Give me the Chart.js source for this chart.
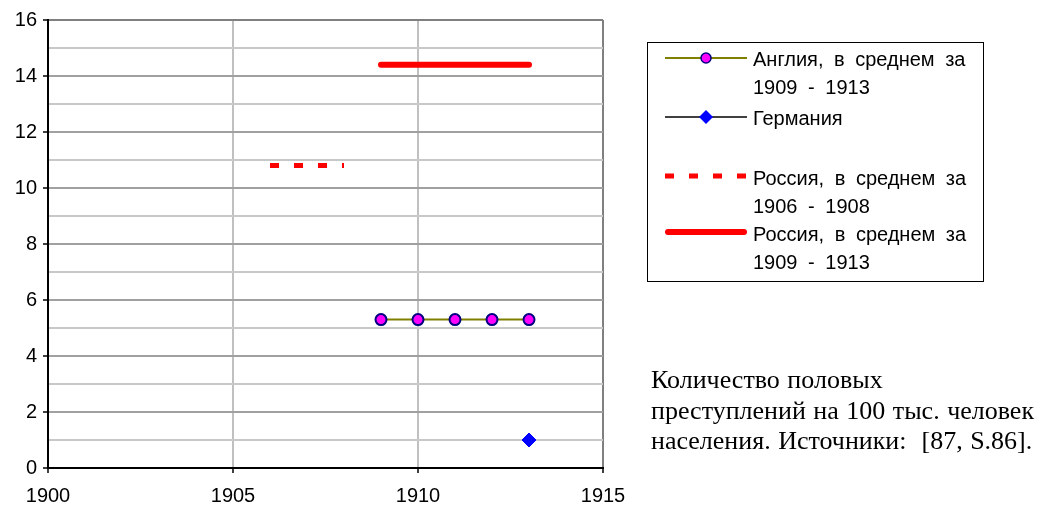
<!DOCTYPE html>
<html>
<head>
<meta charset="utf-8">
<script src="https://cdn.jsdelivr.net/npm/chart.js@4.4.1/dist/chart.umd.min.js"></script>
<style>
  body { margin: 0; background: #fff; }
  #wrap { position: relative; width: 1051px; height: 509px; }
  #legend {
    position: absolute; left: 647px; top: 42px; width: 335px; height: 238px;
    border: 1px solid #000; font-family: 'Liberation Sans', Arial, sans-serif;
    font-size: 20px; color: #000;
  }
  .entry { position: absolute; left: 105px; line-height: 28px; word-spacing: 5px; white-space: nowrap; }
  .sw { position: absolute; left: 17px; }
  #note {
    position: absolute; left: 651px; top: 365px; font-family: 'Liberation Serif', 'Times New Roman', serif;
    font-size: 26px; line-height: 30.5px; word-spacing: 1px; color: #000; white-space: nowrap;
  }
</style>
</head>
<body>
<div id="wrap">
  <canvas id="crimeChart" width="1051" height="509"></canvas>
  <div id="legend"></div>
  <div id="note">Количество половых<br>преступлений на 100 тыс. человек<br>населения. Источники:&nbsp; [87, S.86].</div>
</div>
<script>
// данные
const englandYears = [1909, 1910, 1911, 1912, 1913];
const englandValues = [5.3, 5.3, 5.3, 5.3, 5.3];
const germanyYears = [1913];
const germanyValues = [1.0];
const russia0608Years = [1906, 1907, 1908];
const russia0608Values = [10.8, 10.8, 10.8];
const russia0913Years = [1909, 1910, 1911, 1912, 1913];
const russia0913Values = [14.4, 14.4, 14.4, 14.4, 14.4];

const legendLabels = [
  'Англия, в среднем за<br>1909 - 1913',
  'Германия',
  'Россия, в среднем за<br>1906 - 1908',
  'Россия, в среднем за<br>1909 - 1913'
];

const toPoints = (xs, ys) => xs.map((x, i) => ({ x: x, y: ys[i] }));
const tickFont = { family: "'Liberation Sans', Arial, sans-serif", size: 20 };

const ctx = document.getElementById('crimeChart').getContext('2d');
const chart = new Chart(ctx, {
  type: 'scatter',
  data: {
    datasets: [
      {
        label: 'Англия',
        data: toPoints(englandYears, englandValues),
        showLine: true,
        borderColor: '#808000',
        borderWidth: 2,
        pointStyle: 'circle',
        pointRadius: 5.5,
        pointBackgroundColor: '#ff00ff',
        pointBorderColor: '#000080',
        pointBorderWidth: 2
      },
      {
        label: 'Германия',
        data: toPoints(germanyYears, germanyValues),
        showLine: true,
        borderColor: '#000000',
        borderWidth: 1.5,
        pointStyle: 'rectRot',
        pointRadius: 7,
        pointBackgroundColor: '#0000ff',
        pointBorderColor: '#0000ff',
        pointBorderWidth: 1
      },
      {
        label: 'Россия 1906-1908',
        data: toPoints(russia0608Years, russia0608Values),
        showLine: true,
        borderColor: '#ff0000',
        borderWidth: 5,
        borderDash: [9, 15],
        borderCapStyle: 'butt',
        pointRadius: 0
      },
      {
        label: 'Россия 1909-1913',
        data: toPoints(russia0913Years, russia0913Values),
        showLine: true,
        borderColor: '#ff0000',
        borderWidth: 6,
        borderCapStyle: 'round',
        borderJoinStyle: 'round',
        pointRadius: 0
      }
    ]
  },
  options: {
    responsive: false,
    animation: false,
    layout: { padding: { top: 20, right: 448, left: 0, bottom: 0 } },
    plugins: { legend: { display: false }, tooltip: { enabled: false } },
    scales: {
      x: {
        type: 'linear',
        min: 1900,
        max: 1915,
        afterFit: (scale) => { scale.height = 41; },
        ticks: {
          stepSize: 5,
          color: '#000',
          padding: 11,
          font: tickFont,
          callback: (v) => String(v)
        },
        grid: {
          color: (c) => (c.tick && c.tick.value === 1915 ? '#808080' : '#c0c0c0'),
          lineWidth: 2,
          tickColor: '#000',
          tickLength: 5,
          tickWidth: 1.5
        },
        border: { color: '#000', width: 2 }
      },
      y: {
        min: 0,
        max: 16,
        afterFit: (scale) => { scale.width = 48; },
        ticks: {
          stepSize: 1,
          autoSkip: false,
          color: '#000',
          padding: 6,
          font: tickFont,
          callback: (v) => (v % 2 === 0 ? v : '')
        },
        grid: {
          color: (c) => {
            if (!c.tick) return '#c0c0c0';
            if (c.tick.value === 16) return '#808080';
            return c.tick.value % 2 === 0 ? '#a0a0a0' : '#c8c8c8';
          },
          lineWidth: 2,
          tickColor: (c) => (c.tick && c.tick.value % 2 === 0 ? '#000' : 'rgba(0,0,0,0)'),
          tickLength: 5,
          tickWidth: 1.5
        },
        border: { color: '#000', width: 2 }
      }
    }
  }
});

// легенда: образцы линий и маркеров берутся из настроек наборов данных
const legendEl = document.getElementById('legend');
const entryTops = [2, 61, 121, 177];
const swatchTops = [3, 62, 121, 177];
chart.data.datasets.forEach((ds, i) => {
  const dash = ds.borderDash ? ds.borderDash.join(',') : '';
  const cap = ds.borderCapStyle === 'round' ? 'round' : 'butt';
  let marker = '';
  if (ds.pointRadius > 0 && ds.pointStyle === 'circle') {
    marker = `<circle cx="41" cy="12" r="5" fill="${ds.pointBackgroundColor}" stroke="${ds.pointBorderColor}" stroke-width="1.5"/>`;
  } else if (ds.pointRadius > 0 && ds.pointStyle === 'rectRot') {
    marker = `<polygon points="41,5 48,12 41,19 34,12" fill="${ds.pointBackgroundColor}"/>`;
  }
  const x1 = cap === 'round' ? 3 : 0;
  const x2 = cap === 'round' ? 79 : 82;
  const sw = document.createElement('div');
  sw.className = 'sw';
  sw.style.top = swatchTops[i] + 'px';
  sw.innerHTML = `<svg width="82" height="24"><line x1="${x1}" y1="12" x2="${x2}" y2="12" stroke="${ds.borderColor}" stroke-width="${Math.min(ds.borderWidth, 6)}" stroke-dasharray="${dash}" stroke-linecap="${cap}"/>${marker}</svg>`;
  legendEl.appendChild(sw);
  const entry = document.createElement('div');
  entry.className = 'entry';
  entry.style.top = entryTops[i] + 'px';
  entry.innerHTML = legendLabels[i];
  legendEl.appendChild(entry);
});
</script>
</body>
</html>
